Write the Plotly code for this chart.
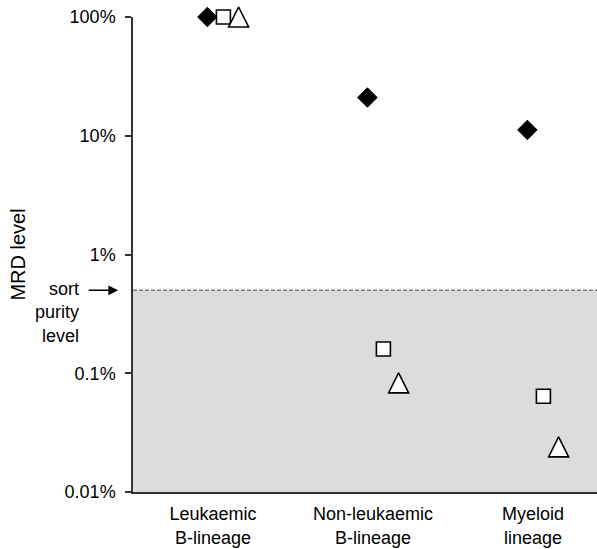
import math
import plotly.graph_objects as go

# Cell populations on the x axis
categories = ["Leukaemic<br>B-lineage", "Non-leukaemic<br>B-lineage", "Myeloid<br>lineage"]

# MRD level (fraction, 1.0 = 100%) per population for the three series
diamond_vals = [1.0, 0.21, 0.112]
square_vals = [1.0, 0.0016, 0.00064]
triangle_vals = [1.0, 0.00083, 0.00024]

# Sort purity threshold
sort_purity = 0.005

# Y axis ticks
tick_vals = [1.0, 0.1, 0.01, 0.001, 0.0001]
tick_text = ["100%", "10%", "1%", "0.1%", "0.01%"]

FONT = "Liberation Sans, Arial, Helvetica, sans-serif"
cat_pos = list(range(1, len(categories) + 1))


def shifted(offset):
    return [p + offset for p in cat_pos]


fig = go.Figure()

# shaded band below the sort purity level
fig.add_shape(type="rect", xref="paper", yref="y", x0=0, x1=1,
              y0=tick_vals[-1], y1=sort_purity,
              fillcolor="#dcdcdc", line_width=0, layer="below")
# dashed threshold line
fig.add_shape(type="line", xref="paper", yref="y", x0=0, x1=1,
              y0=sort_purity, y1=sort_purity,
              line=dict(color="#7a7a7a", width=1.5, dash="4px,2px"), layer="below")

fig.add_trace(go.Scatter(
    x=shifted(-0.035), y=diamond_vals, mode="markers", cliponaxis=False,
    marker=dict(symbol="diamond", size=15, color="black",
                line=dict(color="black", width=1)),
    showlegend=False))
fig.add_trace(go.Scatter(
    x=shifted(0.065), y=square_vals, mode="markers", cliponaxis=False,
    marker=dict(symbol="square", size=14, color="white",
                line=dict(color="black", width=1.6)),
    showlegend=False))
# upright triangle centred on its value (apex-anchored symbol turned and pushed up)
fig.add_trace(go.Scatter(
    x=shifted(0.16), y=triangle_vals, mode="markers", cliponaxis=False,
    marker=dict(symbol="arrow-down", angle=180, size=20, color="white", standoff=10,
                line=dict(color="black", width=1.6)),
    showlegend=False))

# "sort purity level" label with arrow pointing at the threshold
fig.add_annotation(xref="paper", yref="y", x=-0.112, y=math.log10(sort_purity),
                   text="sort<br>purity<br>level", showarrow=False,
                   xanchor="right", yanchor="top", align="right", yshift=13,
                   font=dict(family=FONT, size=18, color="black"))
fig.add_annotation(xref="paper", yref="y", x=-0.032, y=math.log10(sort_purity),
                   text="", showarrow=True, ax=-31, ay=0,
                   arrowhead=2, arrowsize=1.3, arrowwidth=1.5, arrowcolor="black")

fig.update_layout(
    width=597, height=549,
    margin=dict(l=133, r=0, t=17, b=57),
    paper_bgcolor="white", plot_bgcolor="white",
    font=dict(family=FONT, size=18, color="black"),
    showlegend=False,
    xaxis=dict(range=[0.5, 3.4], tickvals=cat_pos, ticktext=categories,
               showgrid=False, zeroline=False, showline=True,
               linecolor="#333333", linewidth=1.5, ticks="",
               ticklabelstandoff=5, tickfont=dict(size=18)),
    yaxis=dict(type="log", range=[-4, 0], tickvals=tick_vals, ticktext=tick_text,
               showgrid=False, zeroline=False, showline=True,
               linecolor="#333333", linewidth=1.5, ticks="outside",
               ticklen=6, tickwidth=1.5, tickcolor="#333333",
               ticklabelstandoff=6, tickfont=dict(size=18),
               title=dict(text="MRD level", font=dict(size=20), standoff=34)),
)

fig.write_html("out.html")
